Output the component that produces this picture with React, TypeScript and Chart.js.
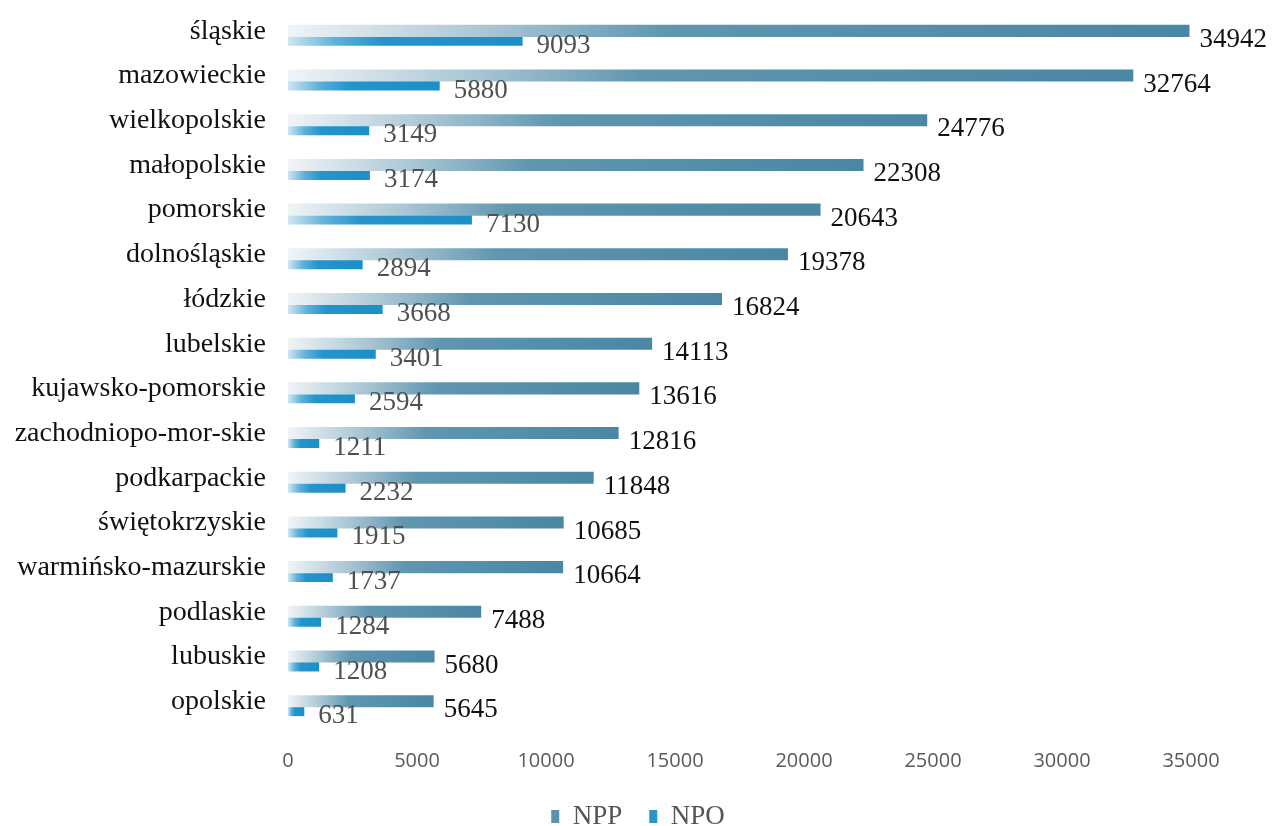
import React, { useEffect, useRef } from "react";
import { Chart, registerables } from "chart.js";

Chart.register(...registerables);

const categories = [
  "śląskie",
  "mazowieckie",
  "wielkopolskie",
  "małopolskie",
  "pomorskie",
  "dolnośląskie",
  "łódzkie",
  "lubelskie",
  "kujawsko-pomorskie",
  "zachodniopo-mor-skie",
  "podkarpackie",
  "świętokrzyskie",
  "warmińsko-mazurskie",
  "podlaskie",
  "lubuskie",
  "opolskie",
];
const nppValues = [34942, 32764, 24776, 22308, 20643, 19378, 16824, 14113, 13616, 12816, 11848, 10685, 10664, 7488, 5680, 5645];
const npoValues = [9093, 5880, 3149, 3174, 7130, 2894, 3668, 3401, 2594, 1211, 2232, 1915, 1737, 1284, 1208, 631];
const seriesNames = ["NPP", "NPO"];

const NPP_COLOR = "#4a87a3";
const NPO_COLOR = "#1b8fc7";
const LEGEND_COLORS = ["#5a93ad", "#2896cc"];

function gradientFill(base: string, stops: [number, string][]) {
  return (ctx: any) => {
    if (ctx.type !== "data") return base;
    const chart = ctx.chart;
    const xs = chart.scales?.x;
    if (!xs || !chart.chartArea) return base;
    const x0 = xs.getPixelForValue(0);
    const x1 = xs.getPixelForValue(ctx.raw);
    if (!(x1 > x0 + 1)) return base;
    const g = chart.ctx.createLinearGradient(x0, 0, x1, 0);
    stops.forEach(([p, c]) => g.addColorStop(p, c));
    g.addColorStop(1, base);
    return g;
  };
}

const valueLabels = {
  id: "valueLabels",
  afterDatasetsDraw(chart: any) {
    const c = chart.ctx;
    c.save();
    c.font = '27px "Liberation Serif", "Times New Roman", serif';
    c.textAlign = "left";
    c.textBaseline = "middle";
    chart.data.datasets.forEach((ds: any, di: number) => {
      const meta = chart.getDatasetMeta(di);
      meta.data.forEach((el: any, i: number) => {
        const v = ds.data[i];
        if (di === 0) {
          c.fillStyle = "#111111";
          c.fillText(String(v), el.x + 10, el.y + 9);
        } else {
          c.fillStyle = "#505050";
          c.fillText(String(v), el.x + 14, el.y + 6);
        }
      });
    });
    c.restore();
  },
};

export default function App() {
  const ref = useRef<HTMLCanvasElement | null>(null);

  useEffect(() => {
    if (!ref.current) return;
    const chart = new Chart(ref.current, {
      type: "bar",
      data: {
        labels: categories,
        datasets: [
          {
            label: seriesNames[0],
            data: nppValues,
            backgroundColor: gradientFill(NPP_COLOR, [
              [0, "#f0f4f7"],
              [0.22, "#a9c6d4"],
              [0.42, "#5f96b0"],
            ]),
            borderWidth: 0,
            categoryPercentage: 0.4,
            barPercentage: 1.35,
          },
          {
            label: seriesNames[1],
            data: npoValues,
            backgroundColor: gradientFill(NPO_COLOR, [
              [0, "#cfe6f2"],
              [0.2, "#5fb1da"],
              [0.4, "#2495cb"],
            ]),
            borderWidth: 0,
            categoryPercentage: 0.4,
            barPercentage: 1.35,
          },
        ],
      },
      options: {
        indexAxis: "y",
        animation: false,
        responsive: true,
        maintainAspectRatio: false,
        layout: { padding: { top: 13, right: 0, left: 0, bottom: 0 } },
        scales: {
          x: {
            min: 0,
            max: 35000,
            grid: { display: false, drawTicks: false },
            border: { display: false },
            ticks: {
              stepSize: 5000,
              color: "#5a5a5a",
              font: { family: '"Open Sans", sans-serif', size: 20 },
              padding: 21,
              callback: (v: any) => String(v),
            },
            afterFit: (scale: any) => {
              scale.height = 48;
              scale.paddingRight = 85;
            },
          },
          y: {
            grid: { display: false, drawTicks: false },
            border: { display: false },
            ticks: {
              color: "#111111",
              font: { family: '"Liberation Serif", "Times New Roman", serif', size: 28 },
              padding: 22,
              labelOffset: -4,
            },
            afterFit: (scale: any) => {
              scale.width = 288;
              scale.paddingTop = 0;
              scale.paddingBottom = 0;
            },
          },
        },
        plugins: {
          legend: {
            position: "bottom",
            labels: {
              boxWidth: 8,
              boxHeight: 13,
              padding: 27,
              color: "#555555",
              font: { family: '"Liberation Serif", "Times New Roman", serif', size: 27 },
              generateLabels: (ch: any) =>
                Chart.defaults.plugins.legend.labels.generateLabels(ch).map((l: any, i: number) => ({
                  ...l,
                  fillStyle: LEGEND_COLORS[i],
                  strokeStyle: LEGEND_COLORS[i],
                  lineWidth: 0,
                })),
            },
          },
          tooltip: { enabled: false },
        },
      },
      plugins: [valueLabels],
    });
    return () => chart.destroy();
  }, []);

  return (
    <div style={{ position: "fixed", left: 0, top: 0, width: 1276, height: 840, background: "#ffffff" }}>
      <canvas ref={ref} />
    </div>
  );
}
